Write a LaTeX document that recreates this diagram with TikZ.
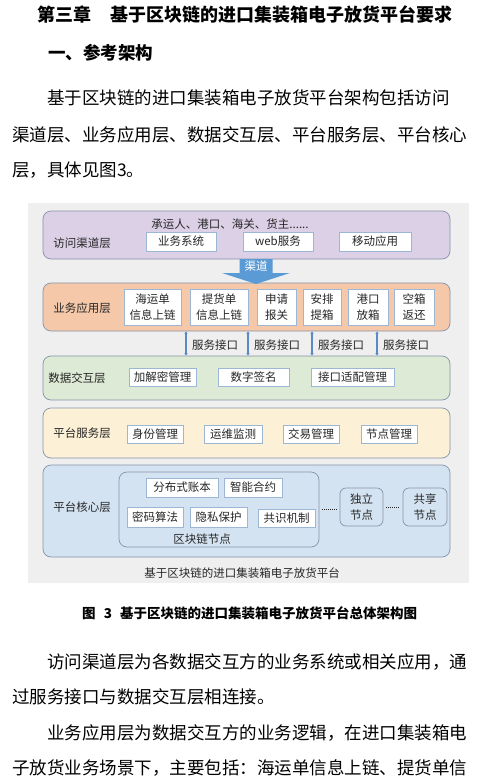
\documentclass[tikz,border=0pt]{standalone}
\usepackage{fontspec}
\setmainfont{Noto Sans CJK SC}
\usetikzlibrary{arrows.meta,positioning}
\definecolor{pgback}{HTML}{EFEFEF}
\definecolor{accfill}{HTML}{DCD0E7}
\definecolor{bizfill}{HTML}{F5C8A9}
\definecolor{datfill}{HTML}{DDEAD5}
\definecolor{srvfill}{HTML}{FCF0D7}
\definecolor{corfill}{HTML}{D4E3F1}
\definecolor{laygray}{HTML}{8593A8}
\definecolor{itemblue}{HTML}{9CB6D6}
\definecolor{chanblue}{HTML}{5B9BD5}
\definecolor{svcblue}{HTML}{5A8AC6}
\definecolor{txtgray}{HTML}{262626}
\XeTeXlinebreaklocale "zh"
\XeTeXlinebreakskip=0pt plus 6pt
\newcommand\dfont{\fontsize{11.5}{16}\selectfont}
\newcommand\bodyfont{\fontsize{17.5}{20}\selectfont}

\begin{document}
\begin{tikzpicture}[x=1pt,y=-1pt,
  layer/.style={draw=laygray,line width=0.7pt,rounded corners=8pt,minimum width=407pt,inner sep=0pt,font=\dfont,text=txtgray,align=center},
  item/.style={draw=itemblue,fill=white,line width=0.6pt,font=\dfont,text=txtgray,inner sep=0pt,minimum height=19pt,align=center},
  tag/.style={font=\dfont,text=txtgray,inner sep=0pt},
  textline/.style={anchor=west,inner sep=0pt,font=\bodyfont},
  headline/.style={textline,font=\fontsize{18}{20}\selectfont\bfseries},
  svc/.style={{Latex[length=2.5pt,width=3.5pt]}-{Latex[length=2.5pt,width=3.5pt]},line width=1.4pt,color=svcblue},
  dots/.style={line width=0.6pt,dash pattern=on 0.7pt off 1.3pt,color=txtgray}
]
\useasboundingbox (0,0) rectangle (499,782);

% heading and first paragraph
\node[headline] (chap) at (37,15) {\hbox to 55pt{第三章}};
\node[headline] (title) at (110,15) {\hbox to 348pt{基于区块链的进口集装箱电子放货平台要求}};
\node[headline,font=\fontsize{17.5}{20}\selectfont\bfseries] (sect) at (48,53) {\hbox to 107pt{一、参考架构}};
\node[textline] (p1) at (47,98) {\hbox to 438pt{基于区块链的进口集装箱电子放货平台架构包括访问}};
\node[textline] (p2) at (12,135) {\hbox to 473pt{渠道层、业务应用层、数据交互层、平台服务层、平台核心}};
\node[textline] (p3) at (12,170) {层，具体见图3。};

% figure
\fill[pgback] (28,203) rectangle (469,583);

\node[layer,fill=accfill,minimum height=48pt] (acc) at (246.5,235) {};
\node[layer,fill=bizfill,minimum height=48pt] (biz) at (246.5,307) {};
\node[layer,fill=datfill,minimum height=44pt] (dat) at (246.5,378) {};
\node[layer,fill=srvfill,minimum height=50pt] (srv) at (246.5,433) {};
\node[layer,fill=corfill,minimum height=92pt] (cor) at (246.5,511) {};

\node[tag] (accl) at (82,243) {访问渠道层};
\node[tag] (bizl) at (82,308) {业务应用层};
\node[tag] (datl) at (77,378) {数据交互层};
\node[tag] (srvl) at (82,433) {平台服务层};
\node[tag] (corl) at (82,507) {平台核心层};

% access layer
\node[tag] (users) at (230,224) {承运人、港口、海关、货主......};
\node[item,minimum width=70pt] (bsys) at (181,241.5) {业务系统};
\node[item,minimum width=70pt] (web) at (278,241.5) {web服务};
\node[item,minimum width=72pt] (mob) at (375,241.5) {移动应用};

% channel arrow
\fill[chanblue] (239.5,259) -- (272.5,259) -- (272.5,273) -- (290,273) -- (256,284)
  -- (222,273) -- (239.5,273) -- cycle;
\node[tag,text=white] (chan) at (256,266) {渠道};

% business layer
\node[item,minimum width=57pt,minimum height=36pt] (sea) at (152.5,307) {海运单\\信息上链};
\node[item,minimum width=58pt,minimum height=36pt] (pick) at (219,307) {提货单\\信息上链};
\node[item,minimum width=39pt,minimum height=36pt] (decl) at (276.5,307) {申请\\报关};
\node[item,minimum width=38pt,minimum height=36pt] (lift) at (322,307) {安排\\提箱};
\node[item,minimum width=40pt,minimum height=36pt] (rel) at (368,307) {港口\\放箱};
\node[item,minimum width=40pt,minimum height=36pt] (ret) at (414,307) {空箱\\返还};

% service interfaces
\foreach \i/\x in {1/192,2/254,3/318,4/383} {
  \node[tag,anchor=west] (api\i) at (\x,345) {服务接口};
  \coordinate (s\i) at ([xshift=-6pt]api\i.west);
  \draw[svc] (s\i |- biz.south) -- (s\i |- dat.north);
}

% data exchange layer
\node[item,minimum width=67pt,minimum height=18pt] (crypt) at (162.5,377) {加解密管理};
\node[item,minimum width=71pt,minimum height=18pt] (sign) at (253.5,377) {数字签名};
\node[item,minimum width=83pt,minimum height=18pt] (adapt) at (352.5,377) {接口适配管理};

% platform service layer
\node[item,minimum width=56pt,minimum height=18pt] (ident) at (155,434) {身份管理};
\node[item,minimum width=58pt,minimum height=18pt] (ops) at (233,434) {运维监测};
\node[item,minimum width=56pt,minimum height=18pt] (trade) at (311,434) {交易管理};
\node[item,minimum width=56pt,minimum height=18pt] (nodes) at (389,434) {节点管理};

% core layer
\node[layer,fill=corfill,minimum width=200pt,minimum height=75pt] (chain) at (219,509.5) {};
\node[tag] (chainl) at (202,539) {区块链节点};
\node[item,minimum width=72pt] (ledger) at (182,487.5) {分布式账本};
\node[item,minimum width=58pt] (smart) at (253,487.5) {智能合约};
\node[item,minimum width=56pt,minimum height=20pt] (algo) at (155,517) {密码算法};
\node[item,minimum width=57pt,minimum height=20pt] (priv) at (218.5,517) {隐私保护};
\node[item,minimum width=57pt,minimum height=18pt] (cons) at (286.5,518) {共识机制};
\node[layer,fill=corfill,minimum width=43pt,minimum height=38pt,rounded corners=6pt] (solo) at (361.5,507) {独立\\节点};
\node[layer,fill=corfill,minimum width=44pt,minimum height=38pt,rounded corners=6pt] (share) at (425,507) {共享\\节点};
\draw[dots] ([xshift=3pt]chain.east) -- ([xshift=-3pt]chain.east -| solo.west);
\draw[dots] ([xshift=3pt]solo.east) -- ([xshift=-3pt]share.west);

\node[tag] (capt) at (242,573) {基于区块链的进口集装箱电子放货平台};

% caption and following text
\node[textline,font=\fontsize{13.5}{16}\selectfont\bfseries] (figcap) at (82,613) {\hbox to 335pt{图 3 基于区块链的进口集装箱电子放货平台总体架构图}};
\node[textline] (q1) at (47,662) {\hbox to 438pt{访问渠道层为各数据交互方的业务系统或相关应用，通}};
\node[textline] (q2) at (12,697) {\hbox to 266pt{过服务接口与数据交互层相连接。}};
\node[textline] (q3) at (47,733) {\hbox to 438pt{业务应用层为数据交互方的业务逻辑，在进口集装箱电}};
\node[textline] (q4) at (12,768) {\hbox to 473pt{子放货业务场景下，主要包括：海运单信息上链、提货单信}};
\end{tikzpicture}
\end{document}
